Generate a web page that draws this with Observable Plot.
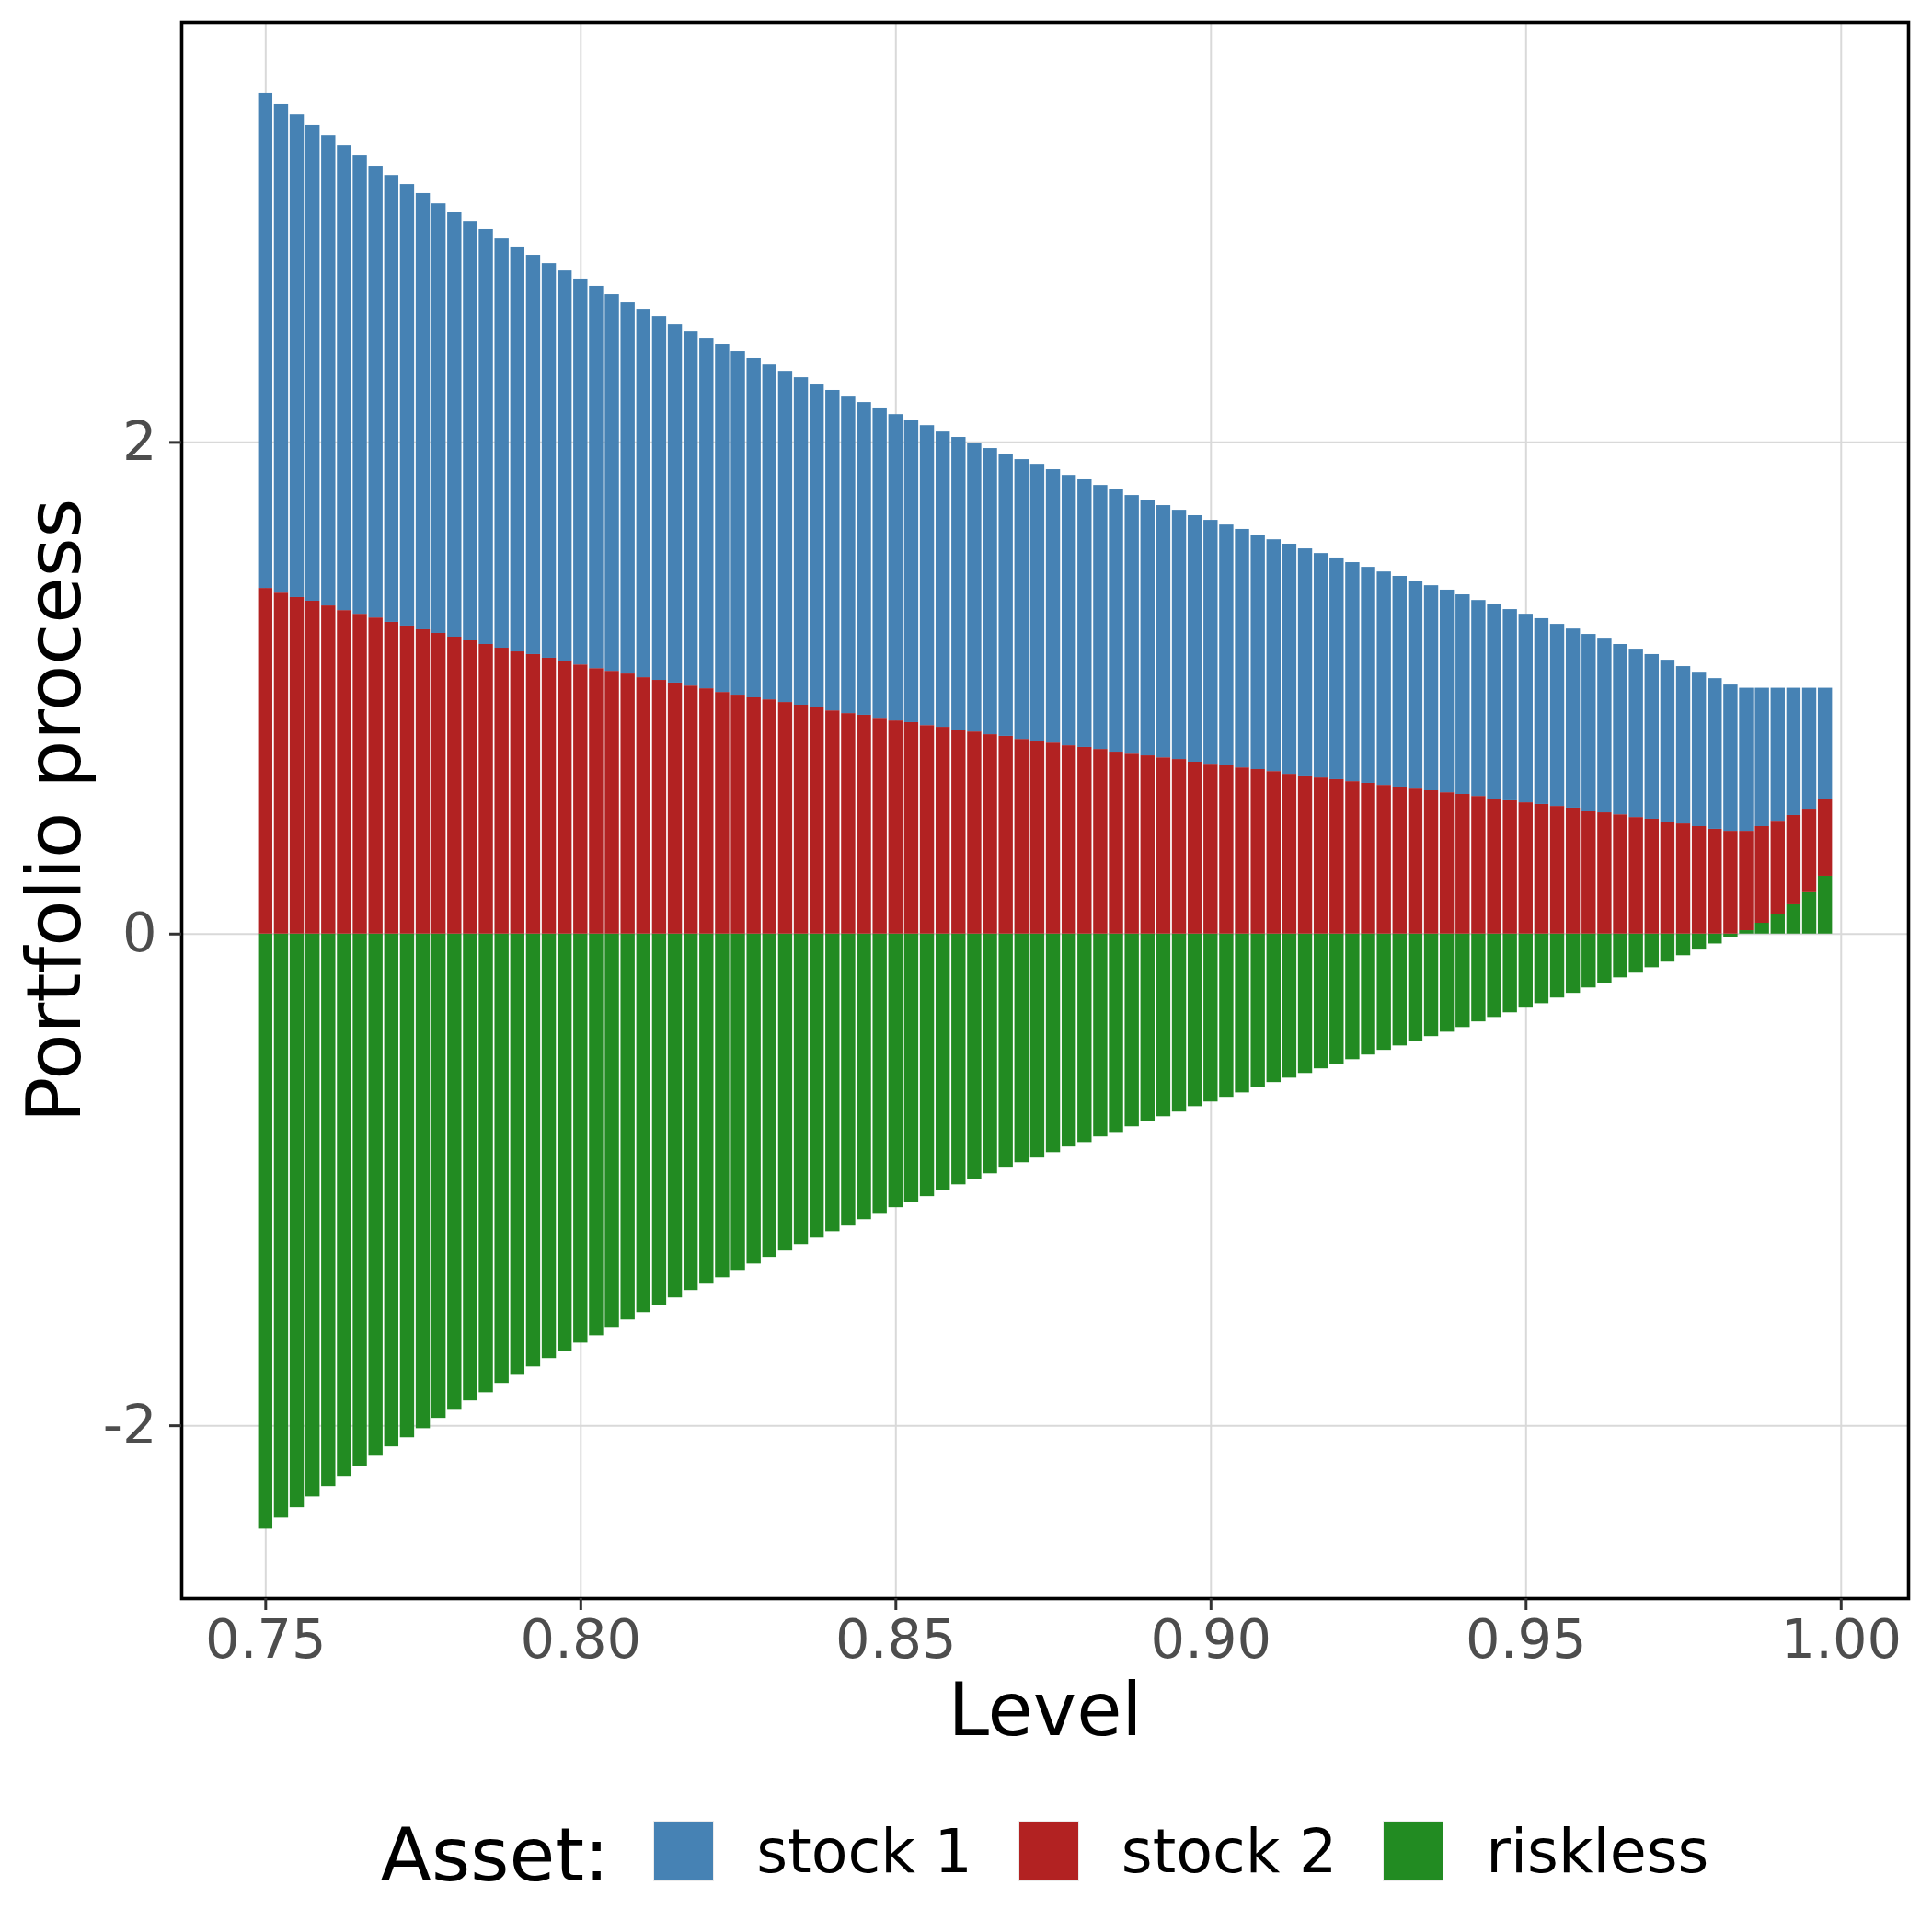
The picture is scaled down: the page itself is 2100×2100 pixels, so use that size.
<!DOCTYPE html>
<html>
<head>
<meta charset="utf-8">
<script src="https://cdn.jsdelivr.net/npm/d3@7"></script>
<script src="https://cdn.jsdelivr.net/npm/@observablehq/plot@0.6"></script>
<style>
  html, body { margin: 0; padding: 0; background: #ffffff; }
  body { width: 2100px; height: 2100px; position: relative; font-family: "DejaVu Sans", sans-serif; }
  #chart { position: absolute; left: 0; top: 0; }
  #legend { position: absolute; left: 197px; top: 1960px; width: 1877px; height: 104px;
            display: flex; align-items: center; justify-content: center; color: #000; }
  #legend .title { font-size: 81px; margin-right: 48px; position: relative; top: 4px; }
  #legend .key { width: 64px; height: 64px; border: 1px solid #ececec; margin-right: 46px; }
  #legend .lab { font-size: 65px; margin-right: 50px; }
  #legend .lab:last-child { margin-right: 0; }
</style>
</head>
<body>
<div id="chart"></div>
<div id="legend"></div>
<script>
const levels = [
  0.7500,0.7525,0.7550,0.7575,0.7600,0.7625,0.7650,0.7675,0.7700,0.7725,
  0.7750,0.7775,0.7800,0.7825,0.7850,0.7875,0.7900,0.7925,0.7950,0.7975,
  0.8000,0.8025,0.8050,0.8075,0.8100,0.8125,0.8150,0.8175,0.8200,0.8225,
  0.8250,0.8275,0.8300,0.8325,0.8350,0.8375,0.8400,0.8425,0.8450,0.8475,
  0.8500,0.8525,0.8550,0.8575,0.8600,0.8625,0.8650,0.8675,0.8700,0.8725,
  0.8750,0.8775,0.8800,0.8825,0.8850,0.8875,0.8900,0.8925,0.8950,0.8975,
  0.9000,0.9025,0.9050,0.9075,0.9100,0.9125,0.9150,0.9175,0.9200,0.9225,
  0.9250,0.9275,0.9300,0.9325,0.9350,0.9375,0.9400,0.9425,0.9450,0.9475,
  0.9500,0.9525,0.9550,0.9575,0.9600,0.9625,0.9650,0.9675,0.9700,0.9725,
  0.9750,0.9775,0.9800,0.9825,0.9850,0.9875,0.9900,0.9925,0.9950,0.9975
];

const stock1 = [
  2.014,1.988,1.964,1.935,1.912,1.890,1.864,1.838,1.818,1.796,
  1.774,1.747,1.729,1.706,1.688,1.665,1.647,1.624,1.605,1.590,
  1.569,1.554,1.531,1.512,1.497,1.478,1.459,1.441,1.426,1.415,
  1.396,1.381,1.362,1.347,1.332,1.317,1.303,1.291,1.272,1.262,
  1.246,1.231,1.220,1.201,1.190,1.175,1.164,1.148,1.138,1.126,
  1.112,1.100,1.089,1.074,1.067,1.052,1.037,1.026,1.014,1.003,
  0.992,0.980,0.970,0.954,0.943,0.936,0.924,0.913,0.902,0.891,
  0.879,0.868,0.857,0.846,0.834,0.824,0.812,0.797,0.790,0.778,
  0.767,0.756,0.741,0.729,0.719,0.707,0.693,0.685,0.670,0.659,
  0.640,0.628,0.613,0.595,0.582,0.563,0.541,0.518,0.492,0.451
];

const stock2 = [
  1.406,1.387,1.369,1.354,1.335,1.316,1.301,1.286,1.268,1.253,
  1.238,1.223,1.208,1.193,1.178,1.163,1.148,1.137,1.122,1.107,
  1.095,1.080,1.069,1.058,1.043,1.032,1.021,1.009,0.998,0.983,
  0.972,0.961,0.953,0.942,0.931,0.920,0.908,0.897,0.890,0.878,
  0.867,0.860,0.848,0.841,0.830,0.822,0.811,0.804,0.792,0.785,
  0.777,0.766,0.759,0.751,0.740,0.732,0.725,0.717,0.710,0.699,
  0.691,0.684,0.676,0.669,0.661,0.650,0.643,0.635,0.628,0.620,
  0.613,0.605,0.598,0.590,0.583,0.575,0.568,0.560,0.549,0.542,
  0.534,0.527,0.519,0.512,0.500,0.493,0.485,0.474,0.467,0.455,
  0.448,0.437,0.426,0.418,0.404,0.393,0.378,0.363,0.340,0.314
];

const riskless = [
  -2.420,-2.375,-2.333,-2.289,-2.247,-2.206,-2.165,-2.124,-2.086,-2.049,
  -2.012,-1.970,-1.937,-1.899,-1.866,-1.828,-1.795,-1.761,-1.727,-1.697,
  -1.664,-1.634,-1.600,-1.570,-1.540,-1.510,-1.480,-1.450,-1.424,-1.398,
  -1.368,-1.342,-1.315,-1.289,-1.263,-1.237,-1.211,-1.188,-1.162,-1.140,
  -1.113,-1.091,-1.068,-1.042,-1.020,-0.997,-0.975,-0.952,-0.930,-0.911,
  -0.889,-0.866,-0.848,-0.825,-0.807,-0.784,-0.762,-0.743,-0.724,-0.702,
  -0.683,-0.664,-0.646,-0.623,-0.604,-0.586,-0.567,-0.548,-0.530,-0.511,
  -0.492,-0.473,-0.455,-0.436,-0.417,-0.399,-0.380,-0.357,-0.339,-0.320,
  -0.301,-0.283,-0.260,-0.241,-0.219,-0.200,-0.178,-0.159,-0.137,-0.114,
  -0.088,-0.065,-0.040,-0.015,0.014,0.044,0.081,0.119,0.168,0.235
];

const assets = ["stock 1", "stock 2", "riskless"];
const assetColors = ["#4682B4", "#B22222", "#228B22"];
const xTicks = [0.75, 0.80, 0.85, 0.90, 0.95, 1.00];
const yTicks = [-2, 0, 2];

// stacking order bottom→top: riskless, stock 2, stock 1
const rows = [];
levels.forEach((lv, i) => {
  rows.push({level: lv, asset: "riskless", value: riskless[i]});
  rows.push({level: lv, asset: "stock 2", value: stock2[i]});
  rows.push({level: lv, asset: "stock 1", value: stock1[i]});
});

const halfW = 0.0025 * 0.9 / 2;

const chart = Plot.plot({
  width: 2100,
  height: 1930,
  marginLeft: 197,
  marginRight: 26,
  marginTop: 24,
  marginBottom: 193,
  style: {fontFamily: "DejaVu Sans", background: "#ffffff", overflow: "visible"},
  x: {domain: [0.73667, 1.01069]},
  y: {domain: [-2.703, 3.708]},
  color: {domain: assets, range: assetColors},
  marks: [
    Plot.gridX(xTicks, {stroke: "#d9d9d9", strokeOpacity: 1, strokeWidth: 2}),
    Plot.gridY(yTicks, {stroke: "#d9d9d9", strokeOpacity: 1, strokeWidth: 2}),
    Plot.rectY(rows, Plot.stackY({
      x: "level",
      x1: d => d.level - halfW,
      x2: d => d.level + halfW,
      y: "value",
      fill: "asset"
    })),
    Plot.frame({stroke: "#000000", strokeWidth: 3.6}),
    Plot.axisX(xTicks, {
      tickFormat: d3.format(".2f"), tickSize: 13, tickPadding: 10,
      fontSize: 59, stroke: "#333333", strokeWidth: 3, fill: "#4D4D4D", label: null
    }),
    Plot.axisY(yTicks, {
      tickFormat: d => String(d), tickSize: 13, tickPadding: 14,
      fontSize: 59, stroke: "#333333", strokeWidth: 3, fill: "#4D4D4D", label: null
    }),
    Plot.text(["Level"], {frameAnchor: "bottom", lineAnchor: "top", textAnchor: "middle", dy: 92,
      fontSize: 80, fill: "#000000"}),
    Plot.text(["Portfolio process"], {frameAnchor: "left", lineAnchor: "bottom", textAnchor: "middle",
      rotate: -90, dx: -111, fontSize: 82, fill: "#000000"})
  ]
});
document.getElementById("chart").appendChild(chart);

const legend = document.getElementById("legend");
const t = document.createElement("span");
t.className = "title";
t.textContent = "Asset:";
legend.appendChild(t);
assets.forEach((a, i) => {
  const k = document.createElement("span");
  k.className = "key";
  k.style.background = assetColors[i];
  legend.appendChild(k);
  const l = document.createElement("span");
  l.className = "lab";
  l.textContent = a;
  legend.appendChild(l);
});
</script>
</body>
</html>
